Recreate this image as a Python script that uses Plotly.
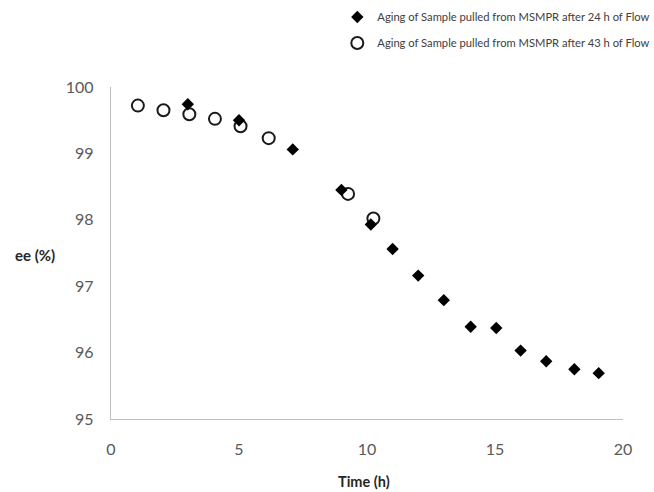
import plotly.graph_objects as go

# Data
time_24 = [3.0, 5.0, 7.1, 9.0, 10.15, 11.0, 12.0, 13.0, 14.05, 15.05, 16.0, 17.0, 18.1, 19.05]
ee_24 = [99.74, 99.50, 99.06, 98.45, 97.93, 97.56, 97.16, 96.79, 96.39, 96.37, 96.03, 95.87, 95.75, 95.69]

time_43 = [1.05, 2.05, 3.06, 4.06, 5.06, 6.16, 9.26, 10.25]
ee_43 = [99.72, 99.65, 99.59, 99.52, 99.41, 99.23, 98.39, 98.02]

name_24 = "Aging of Sample pulled from MSMPR after 24 h of Flow"
name_43 = "Aging of Sample pulled from MSMPR after 43 h of Flow"

x_ticks = [0, 5, 10, 15, 20]
y_ticks = [95, 96, 97, 98, 99, 100]

FONT = "Lato"
fig = go.Figure()
fig.add_trace(go.Scatter(
    x=time_43, y=ee_43, mode="markers", name=name_43, legend="legend2",
    marker=dict(symbol="circle-open", size=12, color="#1a1a1a", line=dict(width=2, color="#1a1a1a")),
))
fig.add_trace(go.Scatter(
    x=time_24, y=ee_24, mode="markers", name=name_24, legend="legend",
    marker=dict(symbol="diamond", size=9.5, color="#000000"),
))

fig.update_layout(
    width=654, height=492,
    margin=dict(l=111, r=31, t=87, b=73, autoexpand=False),
    paper_bgcolor="white", plot_bgcolor="white",
    font=dict(family=FONT, size=16, color="#595959"),
    xaxis=dict(range=[0, 20], tickvals=x_ticks, showgrid=False, zeroline=False,
               showline=True, linecolor="#bfbfbf", linewidth=1.3, ticks="",
               tickfont=dict(size=16, color="#595959"), ticklabelstandoff=16),
    yaxis=dict(range=[95, 100], tickvals=y_ticks, showgrid=False, zeroline=False,
               showline=True, linecolor="#bfbfbf", linewidth=1.3, ticks="",
               tickfont=dict(size=16, color="#595959"), ticklabelstandoff=13),
    legend=dict(x=0.442, y=1.211, xanchor="left", yanchor="middle",
                font=dict(family=FONT, size=11.2, color="#404040"),
                itemwidth=30, bgcolor="rgba(0,0,0,0)"),
    legend2=dict(x=0.442, y=1.1325, xanchor="left", yanchor="middle",
                 font=dict(family=FONT, size=11.2, color="#404040"),
                 itemwidth=30, bgcolor="rgba(0,0,0,0)"),
    showlegend=True,
    annotations=[
        dict(text="<b>ee (%)</b>", x=-0.149, y=0.493, xref="paper", yref="paper",
             xanchor="center", yanchor="middle", showarrow=False,
             font=dict(family=FONT, size=15, color="#262626")),
        dict(text="<b>Time (h)</b>", x=0.495, y=-0.188, xref="paper", yref="paper",
             xanchor="center", yanchor="middle", showarrow=False,
             font=dict(family=FONT, size=14.5, color="#262626")),
    ],
)

fig.write_html("out.html")
